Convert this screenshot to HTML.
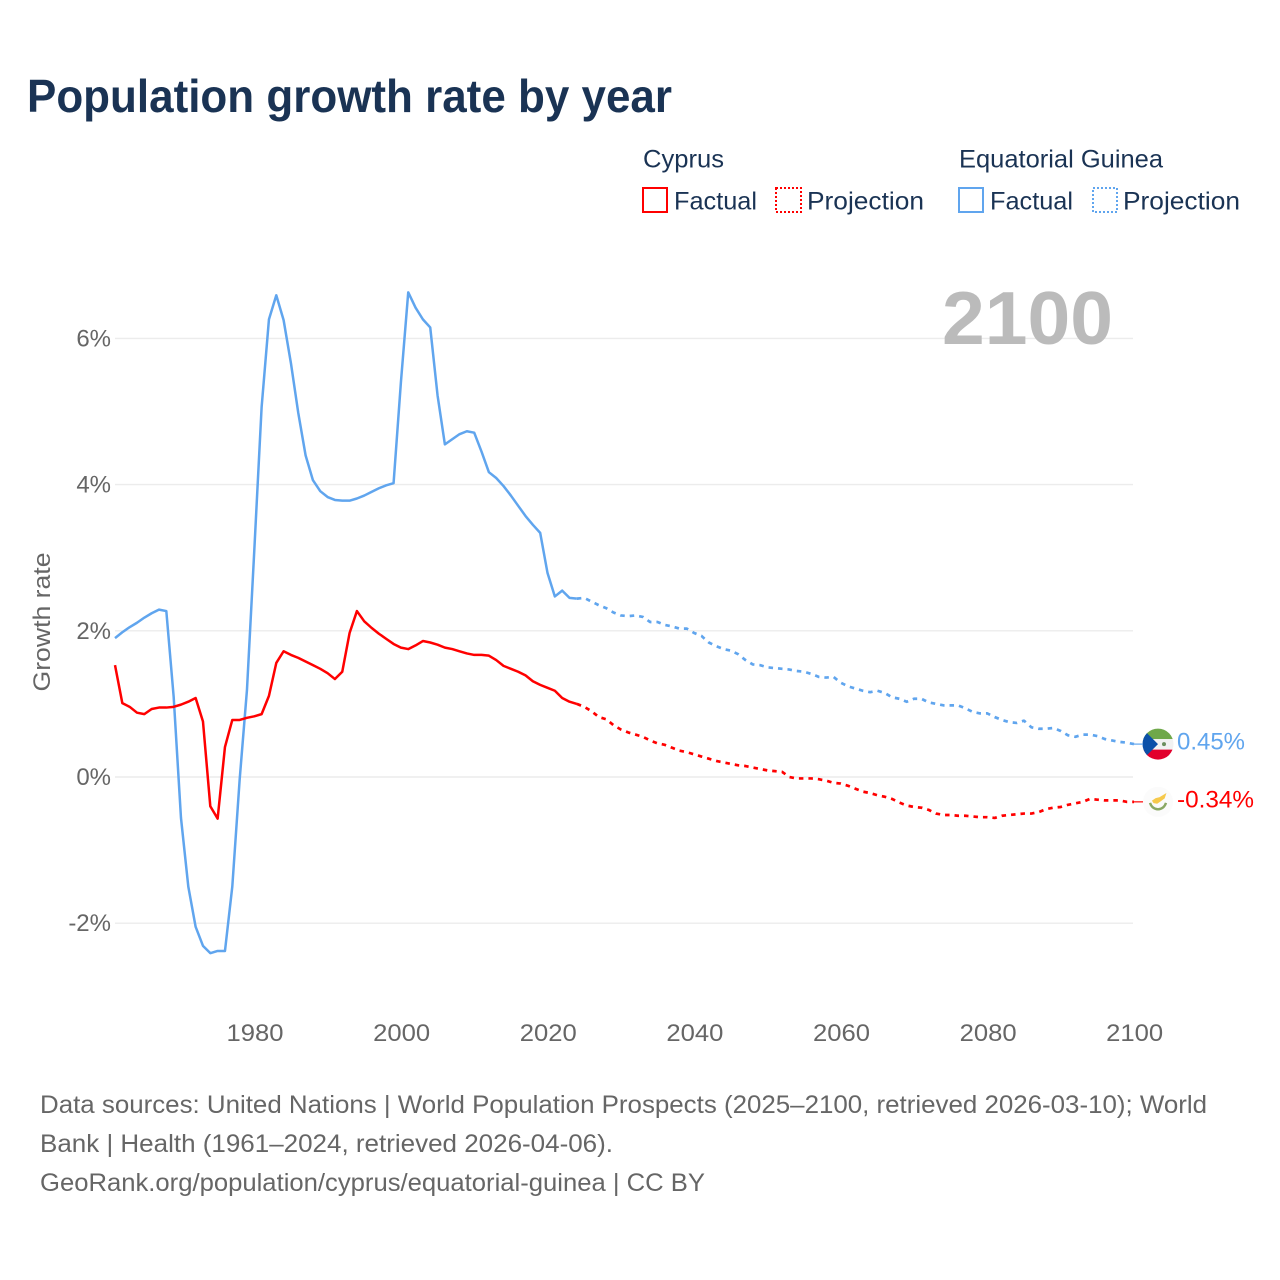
<!DOCTYPE html>
<html lang="en">
<head>
<meta charset="utf-8">
<title>Population growth rate by year</title>
<style>
  html, body { margin: 0; padding: 0; background: #fff; }
  svg { display: block; }
  text { font-family: "Liberation Sans", sans-serif; }
</style>
</head>
<body>
<svg id="chart" xmlns="http://www.w3.org/2000/svg" width="1280" height="1280" viewBox="0 0 1280 1280">
  <rect x="0" y="0" width="1280" height="1280" fill="#ffffff"/>
  <text x="27" y="112" font-size="46" font-weight="700" fill="#1a3354" textLength="645" lengthAdjust="spacingAndGlyphs">Population growth rate by year</text>

  <g>
    <text x="643" y="167.5" font-size="25" fill="#1a3354" textLength="81" lengthAdjust="spacingAndGlyphs">Cyprus</text>
    <rect x="643" y="188" width="24" height="24" fill="none" stroke="#ff0000" stroke-width="2"/>
    <text x="674" y="209.5" font-size="25" fill="#1a3354" textLength="83" lengthAdjust="spacingAndGlyphs">Factual</text>
    <rect x="776" y="188" width="25" height="24" fill="none" stroke="#ff0000" stroke-width="2" stroke-dasharray="2 2"/>
    <text x="807" y="209.5" font-size="25" fill="#1a3354" textLength="117" lengthAdjust="spacingAndGlyphs">Projection</text>

    <text x="959" y="167.5" font-size="25" fill="#1a3354" textLength="204" lengthAdjust="spacingAndGlyphs">Equatorial Guinea</text>
    <rect x="959" y="188" width="24" height="24" fill="none" stroke="#60a5ee" stroke-width="2"/>
    <text x="990" y="209.5" font-size="25" fill="#1a3354" textLength="83" lengthAdjust="spacingAndGlyphs">Factual</text>
    <rect x="1093" y="188" width="24" height="24" fill="none" stroke="#60a5ee" stroke-width="2" stroke-dasharray="2 2"/>
    <text x="1123" y="209.5" font-size="25" fill="#1a3354" textLength="117" lengthAdjust="spacingAndGlyphs">Projection</text>
  </g>

  <g id="grid"></g>
  <text x="942" y="344" font-size="75" font-weight="700" fill="#bbbbbb" textLength="171" lengthAdjust="spacingAndGlyphs">2100</text>
  <g id="yAxis"></g>
  <g id="xAxis"></g>
  <text transform="translate(50,622) rotate(-90)" text-anchor="middle" font-size="24" fill="#666666" textLength="139" lengthAdjust="spacingAndGlyphs">Growth rate</text>
  <g id="series"></g>

  <defs>
    <clipPath id="gqClip"><circle cx="0" cy="0" r="15.5"/></clipPath>
  </defs>
  <g id="flagGq">
    <g clip-path="url(#gqClip)">
      <rect x="-16" y="-16" width="32" height="11" fill="#6fa84a"/>
      <rect x="-16" y="-5" width="32" height="10.5" fill="#f2f2f2"/>
      <rect x="-16" y="5.5" width="32" height="11" fill="#e2002c"/>
      <path d="M-16,-16 L0,0 L-16,16 Z" fill="#0b50a8"/>
      <circle cx="6" cy="0" r="2" fill="#6b8f5e"/>
    </g>
  </g>
  <g id="flagCy">
    <circle cx="0" cy="0" r="15" fill="#fbfbfb"/>
    <path d="M-5,-1 L-2,-3 L2,-4 L7,-7 L6,-4 L2,-1 L-1,1 L-4,0.5 Z" fill="#f6c94b" stroke="#f6c94b" stroke-width="1.6"/>
    <path d="M-8,1 Q-6,7 0,7.5 Q6,7 8,1" fill="none" stroke="#8aa864" stroke-width="2.4"/>
  </g>
  <g id="endLabels"></g>

  <g>
    <text x="40" y="1113" font-size="25" fill="#666666" textLength="1167" lengthAdjust="spacingAndGlyphs">Data sources: United Nations | World Population Prospects (2025–2100, retrieved 2026-03-10); World</text>
    <text x="40" y="1152" font-size="25" fill="#666666" textLength="573" lengthAdjust="spacingAndGlyphs">Bank | Health (1961–2024, retrieved 2026-04-06).</text>
    <text x="40" y="1191" font-size="25" fill="#666666" textLength="665" lengthAdjust="spacingAndGlyphs">GeoRank.org/population/cyprus/equatorial-guinea | CC BY</text>
  </g>
</svg>
<script>
const factualYears = [1961,1962,1963,1964,1965,1966,1967,1968,1969,1970,1971,1972,1973,1974,1975,1976,1977,1978,1979,1980,1981,1982,1983,1984,1985,1986,1987,1988,1989,1990,1991,1992,1993,1994,1995,1996,1997,1998,1999,2000,2001,2002,2003,2004,2005,2006,2007,2008,2009,2010,2011,2012,2013,2014,2015,2016,2017,2018,2019,2020,2021,2022,2023,2024];
const projectionYears = [2024,2025,2026,2027,2028,2029,2030,2031,2032,2033,2034,2035,2036,2037,2038,2039,2040,2041,2042,2043,2044,2045,2046,2047,2048,2049,2050,2051,2052,2053,2054,2055,2056,2057,2058,2059,2060,2061,2062,2063,2064,2065,2066,2067,2068,2069,2070,2071,2072,2073,2074,2075,2076,2077,2078,2079,2080,2081,2082,2083,2084,2085,2086,2087,2088,2089,2090,2091,2092,2093,2094,2095,2096,2097,2098,2099,2100];

const guineaFactual = [1.90,1.98,2.05,2.11,2.18,2.24,2.29,2.27,1.10,-0.56,
  -1.50,-2.05,-2.31,-2.41,-2.38,-2.38,-1.50,-0.04,1.19,3.10,
  5.06,6.26,6.59,6.25,5.66,4.98,4.40,4.06,3.91,3.83,
  3.79,3.78,3.78,3.81,3.85,3.90,3.95,3.99,4.02,5.40,
  6.63,6.42,6.26,6.15,5.22,4.55,4.62,4.69,4.73,4.71,
  4.45,4.17,4.09,3.98,3.85,3.71,3.57,3.45,3.34,2.79,
  2.47,2.55,2.45,2.44];

const guineaProjection = [2.44,2.45,2.40,2.35,2.31,2.25,2.21,2.20,2.21,2.19,
  2.12,2.12,2.08,2.06,2.03,2.03,1.97,1.93,1.84,1.79,
  1.75,1.73,1.68,1.60,1.54,1.53,1.50,1.49,1.48,1.47,
  1.45,1.44,1.41,1.37,1.36,1.37,1.29,1.24,1.21,1.18,
  1.16,1.18,1.15,1.09,1.07,1.03,1.07,1.07,1.02,1.00,
  0.98,0.98,0.98,0.94,0.89,0.87,0.87,0.82,0.78,0.75,
  0.74,0.77,0.68,0.66,0.66,0.67,0.63,0.57,0.55,0.58,
  0.58,0.56,0.52,0.50,0.48,0.47,0.45];

const cyprusFactual = [1.53,1.01,0.96,0.88,0.86,0.93,0.95,0.95,0.96,0.99,
  1.03,1.08,0.76,-0.40,-0.57,0.41,0.78,0.78,0.81,0.83,
  0.86,1.11,1.56,1.72,1.67,1.63,1.58,1.53,1.48,1.42,
  1.34,1.44,1.97,2.27,2.13,2.04,1.96,1.89,1.82,1.77,
  1.75,1.80,1.86,1.84,1.81,1.77,1.75,1.72,1.69,1.67,
  1.67,1.66,1.60,1.52,1.48,1.44,1.39,1.31,1.26,1.22,
  1.18,1.08,1.03,1.00];

const cyprusProjection = [1.00,0.96,0.90,0.82,0.79,0.71,0.65,0.61,0.58,0.55,
  0.50,0.46,0.44,0.40,0.36,0.34,0.31,0.28,0.25,0.22,
  0.20,0.18,0.16,0.15,0.13,0.11,0.09,0.08,0.07,0.00,
  -0.02,-0.02,-0.02,-0.03,-0.05,-0.08,-0.09,-0.12,-0.16,-0.20,
  -0.22,-0.25,-0.27,-0.30,-0.35,-0.39,-0.41,-0.42,-0.45,-0.50,
  -0.52,-0.52,-0.53,-0.53,-0.54,-0.55,-0.55,-0.56,-0.53,-0.52,
  -0.51,-0.50,-0.50,-0.48,-0.44,-0.42,-0.41,-0.38,-0.36,-0.34,
  -0.30,-0.31,-0.32,-0.32,-0.32,-0.34,-0.34];

const xTickValues = [1980,2000,2020,2040,2060,2080,2100];
const yTickValues = [-2,0,2,4,6];
const yTickLabels = ['-2%','0%','2%','4%','6%'];
const endLabelTexts = ['0.45%','-0.34%'];

const SVG_NS = 'http://www.w3.org/2000/svg';
const BLUE = '#60a5ee';
const RED = '#ff0000';

function xScale(year) { return 115 + (year - 1961) * (1134 - 115) / (2100 - 1961); }
function yScale(value) { return 777 - value * 73.1; }

function pathFor(years, values) {
  return years.map(function (yr, i) {
    return (i ? 'L' : 'M') + xScale(yr).toFixed(2) + ',' + yScale(values[i]).toFixed(2);
  }).join(' ');
}

const gridGroup = document.getElementById('grid');
const yAxisGroup = document.getElementById('yAxis');
const xAxisGroup = document.getElementById('xAxis');
const seriesGroup = document.getElementById('series');
const endGroup = document.getElementById('endLabels');

yTickValues.forEach(function (v, i) {
  const line = document.createElementNS(SVG_NS, 'line');
  
  
  line.setAttribute('x1', 115);
  line.setAttribute('x2', 1133);
  line.setAttribute('y1', yScale(v));
  line.setAttribute('y2', yScale(v));
  line.setAttribute('stroke', '#ececec');
  line.setAttribute('stroke-width', 1.4);
  gridGroup.appendChild(line);

  const label = document.createElementNS(SVG_NS, 'text');
  
  
  label.setAttribute('x', 111);
  label.setAttribute('y', yScale(v) + 8);
  label.setAttribute('text-anchor', 'end');
  label.setAttribute('font-size', 24);
  label.setAttribute('fill', '#666666');
  label.textContent = yTickLabels[i];
  yAxisGroup.appendChild(label);
});

xTickValues.forEach(function (yr) {
  const label = document.createElementNS(SVG_NS, 'text');
  
  
  label.setAttribute('x', xScale(yr) + 0.7);
  label.setAttribute('y', 1041);
  label.setAttribute('text-anchor', 'middle');
  label.setAttribute('font-size', 24);
  label.setAttribute('fill', '#666666');
  label.setAttribute('textLength', 57);
  label.setAttribute('lengthAdjust', 'spacingAndGlyphs');
  label.textContent = String(yr);
  xAxisGroup.appendChild(label);
});

function addLine(years, values, color, dashed) {
  const p = document.createElementNS(SVG_NS, 'path');
  p.setAttribute('d', pathFor(years, values));
  p.setAttribute('fill', 'none');
  p.setAttribute('stroke', color);
  p.setAttribute('stroke-width', dashed ? 2.7 : 2.5);
  p.setAttribute('stroke-linejoin', 'round');
  if (dashed) p.setAttribute('stroke-dasharray', '4.5 5');
  seriesGroup.appendChild(p);
  return p;
}

const guineaFactualLine = addLine(factualYears, guineaFactual, BLUE, false);


const guineaProjectionLine = addLine(projectionYears, guineaProjection, BLUE, true);


const cyprusFactualLine = addLine(factualYears, cyprusFactual, RED, false);


const cyprusProjectionLine = addLine(projectionYears, cyprusProjection, RED, true);



const lastYear = projectionYears[projectionYears.length - 1];
const guineaEndY = yScale(guineaProjection[guineaProjection.length - 1]);
const cyprusEndY = yScale(cyprusProjection[cyprusProjection.length - 1]);
const endX = xScale(lastYear);

function addConnector(y, color) {
  const c = document.createElementNS(SVG_NS, 'line');
  c.setAttribute('x1', endX);
  c.setAttribute('x2', endX + 9);
  c.setAttribute('y1', y);
  c.setAttribute('y2', y);
  c.setAttribute('stroke', color);
  c.setAttribute('stroke-width', 1.2);
  endGroup.appendChild(c);
  return c;
}
const guineaConnector = addConnector(guineaEndY, BLUE);


const cyprusConnector = addConnector(cyprusEndY, RED);



document.getElementById('flagGq').setAttribute('transform', 'translate(' + (endX + 24) + ',' + guineaEndY + ')');
document.getElementById('flagCy').setAttribute('transform', 'translate(' + (endX + 24) + ',' + cyprusEndY + ')');

function addEndLabel(y, color, text, width) {
  const t = document.createElementNS(SVG_NS, 'text');
  t.setAttribute('x', endX + 43);
  t.setAttribute('y', y + 5.5);
  t.setAttribute('font-size', 24);
  t.setAttribute('fill', color);
  t.setAttribute('textLength', width);
  t.setAttribute('lengthAdjust', 'spacingAndGlyphs');
  t.textContent = text;
  endGroup.appendChild(t);
  return t;
}
const guineaEndLabel = addEndLabel(guineaEndY, BLUE, endLabelTexts[0], 68);


const cyprusEndLabel = addEndLabel(cyprusEndY, RED, endLabelTexts[1], 77);


</script>
</body>
</html>
